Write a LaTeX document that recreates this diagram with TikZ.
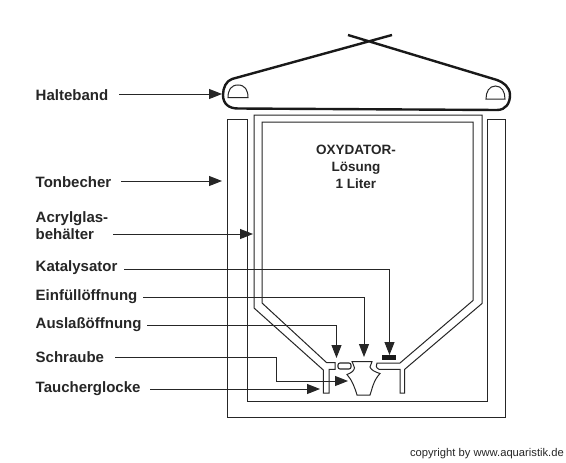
\documentclass[tikz,border=0pt]{standalone}
\usepackage{fontspec}
\setmainfont{Liberation Sans}
\usetikzlibrary{arrows.meta}
\tikzset{
 x=1pt,y=-1pt,
 lbl/.style={font=\fontsize{15}{15}\selectfont\bfseries,anchor=base west,inner sep=0pt,text=black!85},
 ctr/.style={font=\fontsize{13.5}{17}\selectfont\bfseries,align=center,inner sep=0pt,text=black!85},
 wall/.style={draw=black!85,line width=1pt,line join=miter},
 strap/.style={draw=black!90,line width=2.4pt,line join=round},
 lead/.style={draw=black!85,line width=1pt,-{Triangle[length=13pt,width=10pt]}},
}
\begin{document}
\begin{tikzpicture}
\useasboundingbox (0,0) rectangle (566,463);
\fill[white] (0,0) rectangle (566,463);
% strap
\draw[strap] (392,35) -- (232,79) .. controls (226,81) and (223,88) .. (223,95)
  .. controls (223,104) and (229,108.5) .. (238,108.5) -- (497,110)
  .. controls (506,110) and (510,103) .. (510,95)
  .. controls (510,87) and (503,82) .. (497,80) -- (348,35);
\draw[wall] (228,97.5) .. controls (228,90) and (231,85) .. (238,85) .. controls (245,85) and (248,90) .. (248,97.5) -- cycle;
\draw[wall] (486,99) .. controls (486,92) and (489,86) .. (495.5,86) .. controls (502,86) and (505,92) .. (505,99) -- cycle;
% Tonbecher
\draw[wall] (227,119) -- (227,417) -- (505,417) -- (505,119) -- (487,119) -- (487,401) -- (247,401) -- (247,119) -- cycle;
% Acrylglas
\draw[wall] (323.3,393) -- (323.3,370) -- (254,308) -- (254,115) -- (482,115) -- (482,303.5) -- (404.7,369.3) -- (404.7,393) -- (400,393) -- (400,369.3) -- (379,369.3) .. controls (376,368) and (375.5,365) .. (377,363) -- (400,363) -- (473,300.5) -- (473,122) -- (262,122) -- (262,303) -- (326.7,362.7) -- (335,362.7) -- (335,369.3) -- (329,369.3) -- (329,393) -- cycle;
\draw[wall,line width=1.1pt,rounded corners=2pt] (338,363) rectangle (351,369);
% bell
\draw[wall] (352,361.5) -- (372,361.5) .. controls (371,365) and (370,366) .. (370,367)
 .. controls (371,370) and (375,372) .. (380,373.5)
 .. controls (373,381) and (372,390) .. (370,395) -- (357,395)
 .. controls (355,388) and (352,380) .. (347,374.5)
 .. controls (351,373) and (354,371) .. (354.5,368) .. controls (354,366) and (353,364) .. cycle;
\fill[black!90] (382,355) rectangle (396,360);
% labels
\node[lbl] (hb) at (35.5,100) {Halteband};
\node[lbl] (tb) at (35.5,187) {Tonbecher};
\node[lbl] (ab1) at (35.5,222.7) {Acrylglas-};
\node[lbl] (ab2) at (35.5,239) {behälter};
\node[lbl] (ka) at (35.5,271.7) {Katalysator};
\node[lbl] (ei) at (35.5,300) {Einfüllöffnung};
\node[lbl] (au) at (35.5,328) {Auslaßöffnung};
\node[lbl] (sc) at (35.5,362.7) {Schraube};
\node[lbl] (ta) at (35.5,392) {Taucherglocke};
\node[ctr] (ox) at (356,167) {OXYDATOR-\\Lösung\\1 Liter};
\node[anchor=east,inner sep=0pt,font=\fontsize{11.2}{11.2}\selectfont,text=black!85] (cr) at (564,454) {copyright by www.aquaristik.de};
% leaders
\coordinate (c1) at (222,94); \coordinate (c2) at (222,181); \coordinate (c3) at (253,234);
\coordinate (c4) at (389.5,355); \coordinate (c5) at (364,357); \coordinate (c6) at (336.5,358);
\coordinate (c7) at (348,381); \coordinate (c8) at (320,389);
\draw[lead] (119,94) -- (c1);
\draw[lead] (121,181) -- (c2);
\draw[lead] (113,234) -- (c3);
\draw[lead] (124,269.3) -| (c4);
\draw[lead] (143,297) -| (c5);
\draw[lead] (147,325) -| (c6);
\draw[lead] (115,357.5) -- (276,357.5) |- (c7);
\draw[lead] (150,389) -- (c8);
\end{tikzpicture}
\end{document}
